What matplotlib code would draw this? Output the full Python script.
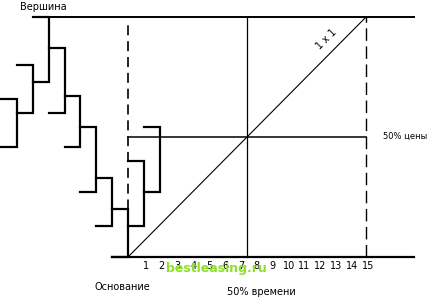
import matplotlib.pyplot as plt

# swing brackets: left edge in time units, high and low in % of the range
bar_start = [-8, -7, -6, -5, -4, -3, -2, -1, 0, 1]
highs = [66, 80, 100, 87, 67, 54, 33, 20, 40, 54]
lows = [46, 60, 73, 60, 46, 27, 13, 0, 13, 27]

time_ticks = list(range(1, 16))
half_time = 7.5
full_time = 15

fig = plt.figure(figsize=(4.35, 2.99), dpi=100)
ax = fig.add_axes([0, 0, 1, 1])
ax.set_xlim(-8.066, 19.345)
ax.set_ylim(-17.5, 107.08)
ax.axis('off')

# price swings drawn as brackets: top tick, vertical, bottom tick
for x0, hi, lo in zip(bar_start, highs, lows):
    ax.plot([x0, x0 + 1, x0 + 1, x0], [hi, hi, lo, lo], color='black', lw=1.6,
            solid_joinstyle='miter')

# top, base and 50% lines
ax.plot([-6, 18], [100, 100], color='black', lw=1.4)
ax.plot([-1, 18], [0, 0], color='black', lw=1.6)
ax.plot([0, full_time], [50, 50], color='black', lw=1.1)

# verticals
ax.plot([0, 0], [0, 97.5], color='black', lw=1.2, dashes=(6, 3.5))
ax.plot([half_time, half_time], [0, 100], color='black', lw=0.9)
ax.plot([full_time, full_time], [0, 100], color='black', lw=1.0, dashes=(9, 4))

# 1x1 line
ax.plot([0, full_time], [0, 100], color='black', lw=0.8)
ax.text(12.48, 90.8, '1 x 1', rotation=45, fontsize=7, ha='center', va='center')

# time tick labels
for t in time_ticks:
    ax.text(t + 0.12, -3.8, str(t), fontsize=7, ha='center', va='center')

ax.text(-5.36, 104.2, 'Вершина', fontsize=7, ha='center', va='center')
ax.text(-0.38, -12.5, 'Основание', fontsize=7, ha='center', va='center')
ax.text(8.38, -14.6, '50% времени', fontsize=7, ha='center', va='center')
ax.text(16.07, 50.4, '50% цены', fontsize=6, ha='left', va='center')

# watermark
ax.text(5.55, -4.8, 'bestleasing.ru', fontsize=9, fontweight='bold',
        color='#8ee02a', ha='center', va='center')

fig.savefig('out.png', dpi=100)
